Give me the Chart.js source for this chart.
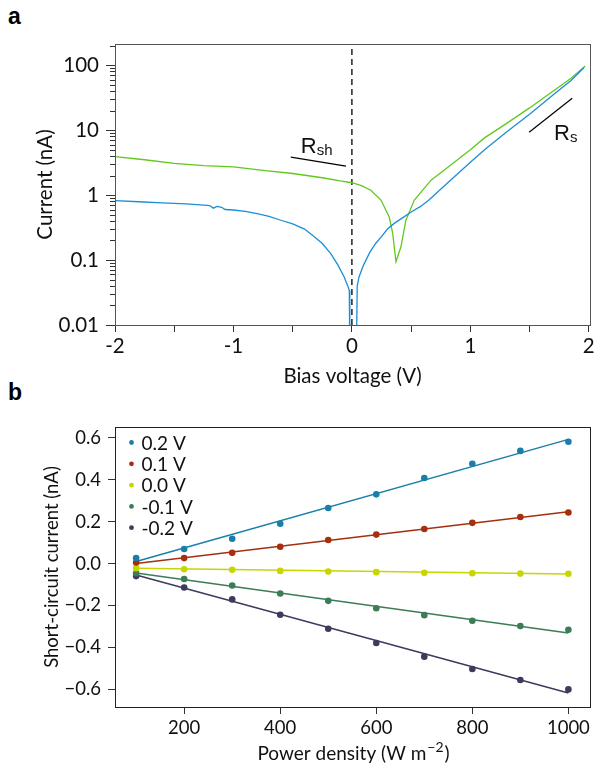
<!DOCTYPE html>
<html>
<head>
<meta charset="utf-8">
<script src="https://cdn.jsdelivr.net/npm/chart.js@4.4.0/dist/chart.umd.min.js"></script>
<style>
  body { margin: 0; background: #fff; width: 597px; height: 769px; position: relative; overflow: hidden; }
  .box { position: absolute; left: 0; width: 597px; }
  .panel { position: absolute; left: 8px; font: bold 23px "Liberation Sans", Arial, sans-serif; line-height: 1; color: #000; }
</style>
</head>
<body>
<div class="panel" style="top:5px">a</div>
<div class="panel" style="top:381px">b</div>
<div class="box" style="top:0;height:392px"><canvas id="chartIV" width="597" height="392"></canvas></div>
<div class="box" style="top:392px;height:377px"><canvas id="chartSC" width="597" height="377"></canvas></div>
<script>
// ---- panel a : I-V curves (log current) ----
const biasBlue = [-2.0, -1.8, -1.6, -1.4, -1.25, -1.2, -1.17, -1.14, -1.1, -1.07, -1.0, -0.9, -0.8, -0.7, -0.6, -0.5, -0.4,
  -0.32, -0.25, -0.18, -0.12, -0.065, -0.035, -0.022, -0.018, 0.038, 0.045, 0.06, 0.1, 0.15, 0.2, 0.25, 0.3, 0.36, 0.43,
  0.5, 0.58, 0.65, 0.8, 1.0, 1.12, 1.3, 1.5, 1.7, 1.85, 1.96];
const currentBlue = [0.82, 0.79, 0.76, 0.73, 0.70, 0.69, 0.63, 0.67, 0.65, 0.6, 0.59, 0.56, 0.52, 0.47, 0.41, 0.36, 0.30,
  0.23, 0.18, 0.127, 0.085, 0.055, 0.04, 0.034, 0.004, 0.004, 0.04, 0.055, 0.085, 0.13, 0.18, 0.23, 0.3, 0.37, 0.45,
  0.55, 0.67, 0.84, 1.5, 3.2, 5.0, 9.2, 17.5, 35, 58, 92];

const biasGreen = [-2.0, -1.75, -1.5, -1.25, -1.0, -0.75, -0.5, -0.25, -0.1, 0, 0.08, 0.16, 0.245, 0.315, 0.344, 0.372,
  0.414, 0.456, 0.527, 0.668, 0.78, 0.9, 1.0, 1.12, 1.3, 1.5, 1.7, 1.85, 1.97];
const currentGreen = [3.9, 3.5, 3.07, 2.85, 2.72, 2.4, 2.15, 1.85, 1.65, 1.55, 1.4, 1.19, 0.84, 0.46, 0.26, 0.094,
  0.16, 0.41, 0.84, 1.7, 2.43, 3.6, 5.0, 7.6, 12.5, 22, 40, 63, 97];

const rshLineX = [-0.516, -0.05], rshLineY = [3.84, 2.79];
const rsLineX = [1.496, 1.86], rsLineY = [9.3, 31];
const zeroLineX = [0, 0], zeroLineY = [0.01, 212];

const xTicksTop = [-2, -1.5, -1, -0.5, 0, 0.5, 1, 1.5, 2];
const yTicksTop = [0.01, 0.1, 1, 10, 100];

// ---- panel b : short-circuit current vs power density ----
const powerDensity = [100, 200, 300, 400, 500, 600, 700, 800, 900, 1000];
const biasLabels = ['0.2 V', '0.1 V', '0.0 V', '-0.1 V', '-0.2 V'];
const sc02 = [0.026, 0.069, 0.118, 0.19, 0.265, 0.33, 0.408, 0.476, 0.537, 0.581];
const sc01 = [0.005, 0.026, 0.051, 0.08, 0.112, 0.138, 0.165, 0.194, 0.222, 0.243];
const sc00 = [-0.022, -0.027, -0.03, -0.035, -0.038, -0.041, -0.044, -0.046, -0.048, -0.049];
const scm01 = [-0.046, -0.074, -0.105, -0.143, -0.178, -0.213, -0.246, -0.273, -0.298, -0.316];
const scm02 = [-0.06, -0.114, -0.171, -0.244, -0.311, -0.379, -0.444, -0.503, -0.555, -0.6];
const fitX = [100, 1000];
const fit02 = [0.01, 0.592];
const fit01 = [0.0, 0.247];
const fit00 = [-0.022, -0.05];
const fitm01 = [-0.045, -0.331];
const fitm02 = [-0.055, -0.617];
const xTicksBot = [200, 400, 600, 800, 1000];
const yTicksBot = [-0.6, -0.4, -0.2, 0, 0.2, 0.4, 0.6];

const seriesColors = ['#1a7fa8', '#a3300f', '#c6d600', '#3c7c57', '#3c3b5e'];
const fontA = { family: 'Lato', size: 20.5 };
const fontB = { family: 'Lato', size: 18.5 };
const axisColor = '#333';

function pts(xs, ys) { return xs.map((x, i) => ({ x: x, y: ys[i] })); }

// frame + minor log ticks + R labels for panel a
const framePlugin = {
  id: 'frame',
  afterDraw(chart) {
    const a = chart.chartArea, ctx = chart.ctx;
    ctx.save();
    ctx.strokeStyle = chart.options.frameColor || axisColor;
    ctx.lineWidth = 1;
    ctx.strokeRect(a.left + 0.5, a.top + 0.5, a.right - a.left, a.bottom - a.top);
    ctx.restore();
  }
};

const minorLogTicks = {
  id: 'minorLogTicks',
  afterDraw(chart) {
    const y = chart.scales.y, ctx = chart.ctx, left = chart.chartArea.left;
    ctx.save();
    ctx.strokeStyle = axisColor;
    ctx.lineWidth = 1;
    for (let e = -2; e <= 2; e++) {
      for (let k = 2; k <= 9; k++) {
        const v = k * Math.pow(10, e);
        if (v > y.max) continue;
        const py = Math.round(y.getPixelForValue(v)) + 0.5;
        ctx.beginPath();
        ctx.moveTo(left - 5, py);
        ctx.lineTo(left, py);
        ctx.stroke();
      }
    }
    ctx.restore();
  }
};

const rLabels = {
  id: 'rLabels',
  afterDatasetsDraw(chart) {
    const ctx = chart.ctx, sx = chart.scales.x, sy = chart.scales.y;
    const items = [['R', 'sh', -0.431, 4.48], ['R', 's', 1.707, 7.0]];
    ctx.save();
    ctx.fillStyle = '#111';
    ctx.textBaseline = 'alphabetic';
    items.forEach(function (it) {
      const px = sx.getPixelForValue(it[2]), py = sy.getPixelForValue(it[3]);
      ctx.font = '22px "Liberation Sans", Arial, sans-serif';
      ctx.fillText(it[0], px, py);
      const w = ctx.measureText(it[0]).width;
      ctx.font = '15px "Liberation Sans", Arial, sans-serif';
      ctx.fillText(it[1], px + w, py + 2);
    });
    ctx.restore();
  }
};

new Chart(document.getElementById('chartIV'), {
  type: 'line',
  data: {
    datasets: [
      { data: pts(biasBlue, currentBlue), borderColor: '#1b8fd6', borderWidth: 1.3 },
      { data: pts(biasGreen, currentGreen), borderColor: '#62c81c', borderWidth: 1.3 },
      { data: pts(zeroLineX, zeroLineY), borderColor: '#000', borderWidth: 1.3, borderDash: [6, 4] },
      { data: pts(rshLineX, rshLineY), borderColor: '#000', borderWidth: 1.2 },
      { data: pts(rsLineX, rsLineY), borderColor: '#000', borderWidth: 1.2 }
    ]
  },
  options: {
    responsive: false,
    animation: false,
    frameColor: '#555',
    layout: { padding: { left: 0, top: 44, right: 7, bottom: 3 } },
    elements: { point: { radius: 0 }, line: { tension: 0 } },
    plugins: { legend: { display: false }, tooltip: { enabled: false } },
    scales: {
      x: {
        type: 'linear', min: -2, max: 2.01,
        afterBuildTicks(s) { s.ticks = xTicksTop.map(v => ({ value: v })); },
        afterFit(s) { s.height = 64; },
        ticks: { font: fontA, color: '#111', padding: 2, maxRotation: 0,
          callback: v => (Number.isInteger(v) ? String(v) : '') },
        grid: { drawOnChartArea: false, tickLength: 7, tickColor: axisColor },
        border: { color: axisColor },
        title: { display: true, text: 'Bias voltage (V)', font: fontA, color: '#111', padding: { top: 0, bottom: 0 } }
      },
      y: {
        type: 'logarithmic', min: 0.01, max: 212,
        afterBuildTicks(s) { s.ticks = yTicksTop.map(v => ({ value: v })); },
        afterFit(s) { s.width = 115; },
        ticks: { font: fontA, color: '#111', padding: 7, callback: v => String(v) },
        grid: { drawOnChartArea: false, tickLength: 9, tickColor: axisColor },
        border: { color: axisColor },
        title: { display: true, text: 'Current (nA)', font: fontA, color: '#111', padding: { top: 33, bottom: 0 } }
      }
    }
  },
  plugins: [framePlugin, minorLogTicks, rLabels]
});

// legend + x title with superscript for panel b
const scLegend = {
  id: 'scLegend',
  afterDatasetsDraw(chart) {
    const ctx = chart.ctx, a = chart.chartArea;
    ctx.save();
    ctx.font = '19px Lato';
    ctx.textBaseline = 'middle';
    biasLabels.forEach(function (lab, i) {
      const cy = a.top + 15.5 + i * 21.3;
      ctx.fillStyle = seriesColors[i];
      ctx.beginPath();
      ctx.arc(a.left + 16.5, cy, 2.4, 0, Math.PI * 2);
      ctx.fill();
      ctx.fillStyle = '#111';
      ctx.fillText(lab, a.left + 26.5, cy + 1);
    });
    ctx.restore();
  }
};

const scTitle = {
  id: 'scTitle',
  afterDraw(chart) {
    const ctx = chart.ctx, a = chart.chartArea;
    const main = 'Power density (W m', sup = '\u22122', tail = ')';
    ctx.save();
    ctx.fillStyle = '#111';
    ctx.textBaseline = 'alphabetic';
    ctx.font = '19px Lato';
    const w1 = ctx.measureText(main).width, w3 = ctx.measureText(tail).width;
    ctx.font = '14px Lato';
    const w2 = ctx.measureText(sup).width;
    let x = (a.left + a.right) / 2 - (w1 + w2 + w3) / 2;
    const base = a.bottom + 53;
    ctx.font = '19px Lato';
    ctx.fillText(main, x, base);
    ctx.font = '14px Lato';
    ctx.fillText(sup, x + w1 + 1, base - 8);
    ctx.font = '19px Lato';
    ctx.fillText(tail, x + w1 + w2 + 2, base);
    ctx.restore();
  }
};

const pointSets = [sc02, sc01, sc00, scm01, scm02];
const fitSets = [fit02, fit01, fit00, fitm01, fitm02];
const scDatasets = [];
pointSets.forEach(function (ys, i) {
  scDatasets.push({ type: 'scatter', label: biasLabels[i], data: pts(powerDensity, ys),
    backgroundColor: seriesColors[i], borderColor: seriesColors[i], pointRadius: 3.3, borderWidth: 0 });
});
fitSets.forEach(function (ys, i) {
  scDatasets.push({ type: 'line', data: pts(fitX, ys), borderColor: seriesColors[i], borderWidth: 1.5, pointRadius: 0 });
});

new Chart(document.getElementById('chartSC'), {
  type: 'scatter',
  data: { datasets: scDatasets },
  options: {
    responsive: false,
    animation: false,
    frameColor: '#222',
    layout: { padding: { left: 0, top: 35, right: 7, bottom: 5 } },
    plugins: { legend: { display: false }, tooltip: { enabled: false } },
    scales: {
      x: {
        type: 'linear', min: 56, max: 1045,
        afterBuildTicks(s) { s.ticks = xTicksBot.map(v => ({ value: v })); },
        afterFit(s) { s.height = 57; },
        ticks: { font: fontB, color: '#111', padding: 3, maxRotation: 0, callback: v => String(v) },
        grid: { drawOnChartArea: false, tickLength: 7, tickColor: axisColor },
        border: { color: axisColor }
      },
      y: {
        type: 'linear', min: -0.684, max: 0.651,
        afterBuildTicks(s) { s.ticks = yTicksBot.map(v => ({ value: v })); },
        afterFit(s) { s.width = 115; },
        ticks: { font: fontB, color: '#111', padding: 7,
          callback: v => (v < 0 ? '\u2212' + Math.abs(v).toFixed(1) : v.toFixed(1)) },
        grid: { drawOnChartArea: false, tickLength: 7, tickColor: axisColor },
        border: { color: axisColor },
        title: { display: true, text: 'Short-circuit current (nA)', font: fontB, color: '#111', padding: { top: 41, bottom: 0 } }
      }
    }
  },
  plugins: [framePlugin, scLegend, scTitle]
});
</script>
</body>
</html>
